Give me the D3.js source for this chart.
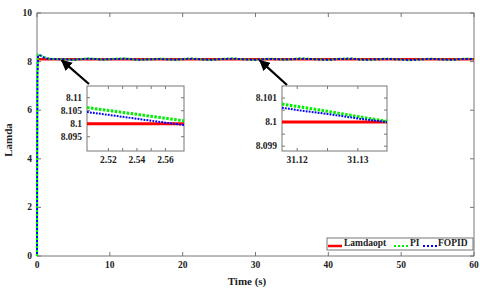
<!DOCTYPE html>
<html>
<head>
<meta charset="utf-8">
<script src="https://cdn.jsdelivr.net/npm/d3@7"></script>
<style>
  body { margin: 0; background: #fff; }
  text { font-family: 'Liberation Serif', 'Times New Roman', serif; font-weight: bold; fill: #222; }
</style>
</head>
<body>
<svg id="chart" width="480" height="291"></svg>
<script>
// main series
const time = [0, 0.02, 0.06, 0.15, 0.3, 0.6, 1, 1.5, 2, 2.5, 3, 4, 5, 6, 7, 8, 9, 10, 11, 12, 13, 14, 15, 16, 17, 18, 19, 20,
  21, 22, 23, 24, 25, 26, 27, 28, 29, 30, 31, 32, 33, 34, 35, 36, 37, 38, 39, 40, 41, 42, 43, 44, 45, 46, 47, 48, 49, 50,
  51, 52, 53, 54, 55, 56, 57, 58, 59, 60];
const lamdaOpt = 8.1;
const piVals = [0, 3.5, 7.6, 8.28, 8.3, 8.24, 8.18, 8.13, 8.11, 8.106, 8.1, 8.09, 8.07, 8.1, 8.13, 8.11, 8.08, 8.1, 8.12, 8.13, 8.1, 8.07, 8.09, 8.1, 8.12, 8.09, 8.07, 8.1,
  8.13, 8.11, 8.08, 8.07, 8.1, 8.12, 8.13, 8.1, 8.08, 8.07, 8.1, 8.12, 8.1, 8.08, 8.1, 8.13, 8.12, 8.1, 8.08, 8.07, 8.1, 8.12, 8.13, 8.1, 8.07, 8.08, 8.1, 8.12, 8.1, 8.08,
  8.06, 8.07, 8.1, 8.12, 8.1, 8.08, 8.07, 8.1, 8.12, 8.1];
const fopidVals = [0, 3.2, 7.4, 8.25, 8.28, 8.22, 8.16, 8.12, 8.105, 8.104, 8.1, 8.09, 8.075, 8.1, 8.12, 8.105, 8.085, 8.1, 8.11, 8.12, 8.1, 8.075, 8.09, 8.1, 8.11, 8.09, 8.075, 8.1,
  8.12, 8.105, 8.085, 8.075, 8.1, 8.11, 8.12, 8.1, 8.085, 8.075, 8.1, 8.11, 8.1, 8.085, 8.1, 8.12, 8.11, 8.1, 8.085, 8.075, 8.1, 8.11, 8.12, 8.1, 8.075, 8.085, 8.1, 8.11, 8.1, 8.085,
  8.065, 8.075, 8.1, 8.11, 8.1, 8.085, 8.075, 8.1, 8.11, 8.1];
const xTicks = [0, 10, 20, 30, 40, 50, 60];
const yTicks = [0, 2, 4, 6, 8, 10];

// inset 1 (zoom near t = 2.5 s)
const zoom1Time = [2.505, 2.52, 2.54, 2.56, 2.573];
const zoom1Pi = [8.1062, 8.1051, 8.1036, 8.1021, 8.1011];
const zoom1Fopid = [8.1045, 8.1034, 8.1019, 8.1004, 8.0995];
const zoom1XTicks = [2.52, 2.53, 2.54, 2.55, 2.56];
const zoom1XLabels = [2.52, 2.54, 2.56];
const zoom1YTicks = [8.095, 8.1, 8.105, 8.11];

// inset 2 (zoom near t = 31.1 s)
const zoom2Time = [31.1175, 31.12, 31.125, 31.13, 31.1348];
const zoom2Pi = [8.10075, 8.10065, 8.10045, 8.10023, 8.10003];
const zoom2Fopid = [8.1006, 8.1005, 8.10034, 8.10015, 8.1];
const zoom2XTicks = [31.12, 31.125, 31.13];
const zoom2XLabels = [31.12, 31.13];
const zoom2YTicks = [8.099, 8.0995, 8.1, 8.1005, 8.101];
const zoom2YLabels = [8.099, 8.1, 8.101];

const series = ['Lamdaopt', 'PI', 'FOPID'];
const colors = { Lamdaopt: '#ff0000', PI: '#00ee00', FOPID: '#0000ff' };

const svg = d3.select('#chart');
const axisColor = '#777';

const x = d3.scaleLinear().domain([0, 60]).range([37, 474]);
const y = d3.scaleLinear().domain([0, 10]).range([256, 13]);

// main box
svg.append('rect')
  .attr('x', x(0)).attr('y', y(10))
  .attr('width', x(60) - x(0)).attr('height', y(0) - y(10))
  .attr('fill', 'none').attr('stroke', axisColor).attr('stroke-width', 1);

function drawTicks(g, sx, sy, xt, yt, len) {
  const [x0, x1] = sx.range();
  const [y0, y1] = sy.range();
  xt.forEach((t) => {
    g.append('line').attr('x1', sx(t)).attr('x2', sx(t)).attr('y1', y0).attr('y2', y0 - len).attr('stroke', axisColor);
    g.append('line').attr('x1', sx(t)).attr('x2', sx(t)).attr('y1', y1).attr('y2', y1 + len).attr('stroke', axisColor);
  });
  yt.forEach((t) => {
    g.append('line').attr('x1', x0).attr('x2', x0 + len).attr('y1', sy(t)).attr('y2', sy(t)).attr('stroke', axisColor);
    g.append('line').attr('x1', x1).attr('x2', x1 - len).attr('y1', sy(t)).attr('y2', sy(t)).attr('stroke', axisColor);
  });
}

const mainTicks = svg.append('g');
drawTicks(mainTicks, x, y, xTicks, yTicks, 4);

svg.append('g')
  .selectAll('text')
  .data(xTicks)
  .enter()
  .append('text')
  .attr('x', (d) => x(d))
  .attr('y', 268)
  .attr('text-anchor', 'middle')
  .attr('font-size', 9.5)
  .text((d) => d);

svg.append('g')
  .selectAll('text')
  .data(yTicks)
  .enter()
  .append('text')
  .attr('x', 32)
  .attr('y', (d) => y(d) + 3)
  .attr('text-anchor', 'end')
  .attr('font-size', 9.5)
  .text((d) => d);

svg.append('text')
  .text('Time (s)')
  .attr('x', 247).attr('y', 285)
  .attr('text-anchor', 'middle')
  .attr('font-size', 11);

svg.append('text')
  .text('Lamda')
  .attr('transform', 'translate(12, 140) rotate(270)')
  .attr('text-anchor', 'middle')
  .attr('font-size', 11);

// main lines
const mainLine = d3.line().x((d) => x(d[0])).y((d) => y(d[1]));
svg.append('path')
  .datum([[0, lamdaOpt], [60, lamdaOpt]])
  .attr('d', mainLine)
  .attr('fill', 'none').attr('stroke', colors.Lamdaopt).attr('stroke-width', 2.5);
svg.append('path')
  .datum(time.map((t, i) => [t, piVals[i]]))
  .attr('d', mainLine)
  .attr('fill', 'none').attr('stroke', colors.PI).attr('stroke-width', 2.2)
  .attr('stroke-dasharray', '2,2');
svg.append('path')
  .datum(time.map((t, i) => [t, fopidVals[i]]))
  .attr('d', mainLine)
  .attr('fill', 'none').attr('stroke', colors.FOPID).attr('stroke-width', 2)
  .attr('stroke-dasharray', '2,2').attr('stroke-dashoffset', 2);

// arrows
const defs = svg.append('defs');
defs.append('marker')
  .attr('id', 'arrowHead')
  .attr('viewBox', '0 0 10 10')
  .attr('refX', 9).attr('refY', 5)
  .attr('markerWidth', 5).attr('markerHeight', 5)
  .attr('orient', 'auto')
  .append('path').attr('d', 'M0,0 L10,5 L0,10 z').attr('fill', '#000');

svg.append('line')
  .attr('x1', 89).attr('y1', 84).attr('x2', x(3.4)).attr('y2', y(8.05))
  .attr('stroke', '#000').attr('stroke-width', 2.2).attr('marker-end', 'url(#arrowHead)');
svg.append('line')
  .attr('x1', 287).attr('y1', 85).attr('x2', x(30.6)).attr('y2', y(8.05))
  .attr('stroke', '#000').attr('stroke-width', 2.2).attr('marker-end', 'url(#arrowHead)');

// insets
function drawInset(id, xs, ys, tt, pi, fopid, xt, xl, yt, yl) {
  const g = svg.append('g');
  const [x0, x1] = xs.range();
  const [y0, y1] = ys.range();
  g.append('rect').attr('x', x0).attr('y', y1).attr('width', x1 - x0).attr('height', y0 - y1)
    .attr('fill', '#fff').attr('stroke', axisColor);
  defs.append('clipPath').attr('id', id)
    .append('rect').attr('x', x0).attr('y', y1).attr('width', x1 - x0).attr('height', y0 - y1);
  drawTicks(g, xs, ys, xt, yt, 3);
  const line = d3.line().x((d) => xs(d[0])).y((d) => ys(d[1]));
  const body = g.append('g').attr('clip-path', `url(#${id})`);
  body.append('path').datum([[xs.domain()[0], lamdaOpt], [xs.domain()[1], lamdaOpt]])
    .attr('d', line).attr('fill', 'none').attr('stroke', colors.Lamdaopt).attr('stroke-width', 3);
  body.append('path').datum(tt.map((t, i) => [t, pi[i]]))
    .attr('d', line).attr('fill', 'none').attr('stroke', colors.PI).attr('stroke-width', 3)
    .attr('stroke-dasharray', '2.5,1.5');
  body.append('path').datum(tt.map((t, i) => [t, fopid[i]]))
    .attr('d', line).attr('fill', 'none').attr('stroke', colors.FOPID).attr('stroke-width', 2)
    .attr('stroke-dasharray', '1.8,1.2');
  g.selectAll('.xl').data(xl).enter().append('text')
    .attr('x', (d) => xs(d)).attr('y', y0 + 12)
    .attr('text-anchor', 'middle').attr('font-size', 9.5)
    .text((d) => d);
  g.selectAll('.yl').data(yl).enter().append('text')
    .attr('x', x0 - 5).attr('y', (d) => ys(d) + 3)
    .attr('text-anchor', 'end').attr('font-size', 9.5)
    .text((d) => d);
}

drawInset('clip1',
  d3.scaleLinear().domain([2.505, 2.573]).range([87, 184]),
  d3.scaleLinear().domain([8.0895, 8.1145]).range([151, 86]),
  zoom1Time, zoom1Pi, zoom1Fopid, zoom1XTicks, zoom1XLabels, zoom1YTicks, zoom1YTicks);

drawInset('clip2',
  d3.scaleLinear().domain([31.1175, 31.1348]).range([282, 387]),
  d3.scaleLinear().domain([8.0988, 8.1015]).range([151, 86]),
  zoom2Time, zoom2Pi, zoom2Fopid, zoom2XTicks, zoom2XLabels, zoom2YTicks, zoom2YLabels);

// legend
const legend = svg.append('g');
legend.append('rect')
  .attr('x', 327).attr('y', 238).attr('width', 146).attr('height', 12)
  .attr('fill', '#fff').attr('stroke', axisColor);
const legendX = [328, 394, 423];
const legendTextX = [344, 410, 438];
legend.selectAll('line')
  .data(series)
  .enter()
  .append('line')
  .attr('x1', (d, i) => legendX[i])
  .attr('x2', (d, i) => legendX[i] + 14)
  .attr('y1', 246).attr('y2', 246)
  .attr('stroke', (d) => colors[d])
  .attr('stroke-width', (d) => (d === 'Lamdaopt' ? 2.5 : 2))
  .attr('stroke-dasharray', (d) => (d === 'Lamdaopt' ? null : '2,2'));
legend.selectAll('text')
  .data(series)
  .enter()
  .append('text')
  .attr('x', (d, i) => legendTextX[i])
  .attr('y', 246)
  .attr('font-size', 9.5)
  .text((d) => d);
</script>
</body>
</html>
